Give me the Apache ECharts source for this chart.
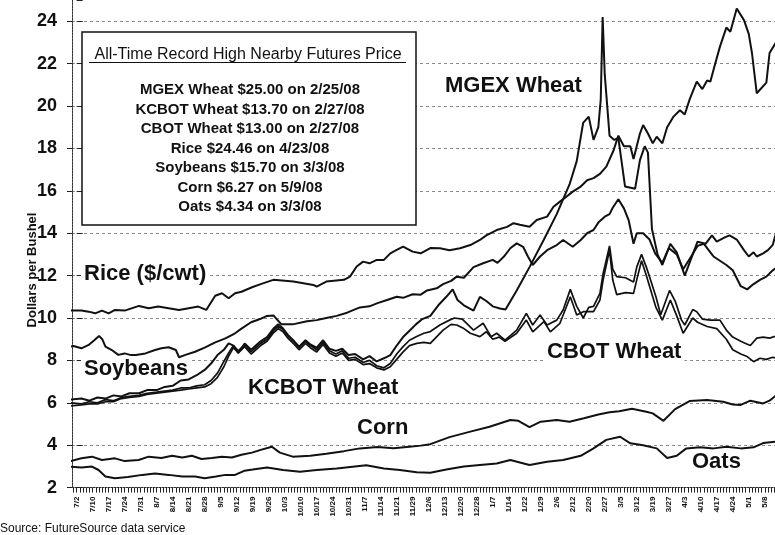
<!DOCTYPE html>
<html>
<head>
<meta charset="utf-8">
<script src="https://cdn.jsdelivr.net/npm/echarts@6/dist/echarts.min.js"></script>
<style>
  html, body { margin: 0; padding: 0; background: #fff; }
  #chart { width: 775px; height: 535px; }
</style>
</head>
<body>
<div id="chart"></div>
<script>
// x = position in weekly label steps, counted from the 7/2 label
const xLabels = ['7/2','7/10','7/17','7/24','7/31','8/7','8/14','8/21','8/28','9/5','9/12','9/19','9/26',
  '10/3','10/10','10/17','10/24','10/31','11/7','11/14','11/21','11/29','12/6','12/13','12/20','12/28',
  '1/7','1/14','1/22','1/29','2/6','2/12','2/20','2/27','3/5','3/12','3/19','3/27','4/3','4/10','4/17','4/24','5/1','5/8'];

const riceData = [[-0.4,10.35],[0.3,10.35],[0.75,10.3],[1.16,10.22],[1.58,10.35],[2.0,10.22],[2.4,10.38],[3.0,10.35],
  [3.9,10.57],[4.5,10.46],[5.1,10.54],[5.75,10.46],[6.4,10.38],[7.0,10.46],[7.6,10.54],[8.1,10.38],[8.66,11.05],
  [9.08,11.17],[9.5,10.93],[9.9,11.17],[10.3,11.24],[10.96,11.45],[11.5,11.6],[12.29,11.8],[13.54,11.72],[14.79,11.56],
  [15.0,11.48],[15.6,11.72],[16.7,11.8],[17.08,11.95],[17.5,12.43],[17.9,12.66],[18.3,12.58],[18.75,12.74],[19.2,12.74],
  [19.6,13.05],[20.0,13.21],[20.4,13.37],[21.0,13.13],[21.5,13.05],[22.1,13.3],[22.7,13.29],[23.3,13.2],[23.96,13.29],
  [24.6,13.44],[25.2,13.68],[25.6,13.9],[26.25,14.15],[26.9,14.3],[27.3,14.47],[27.7,14.4],[28.3,14.3],[28.75,14.62],
  [29.4,14.78],[29.8,15.25],[30.2,15.49],[30.6,15.72],[31.0,15.96],[31.5,16.2],[31.9,16.5],[32.3,16.6],[32.7,16.8],
  [33.1,17.14],[33.55,17.9],[33.85,18.6],[34.2,18.1],[34.6,18.1],[34.8,17.5],[35.2,18.7],[35.4,19.1],[35.7,18.7],
  [36.0,18.24],[36.25,18.55],[36.6,18.24],[36.9,19.0],[37.3,19.5],[37.7,19.8],[38.0,19.6],[38.3,20.3],[38.75,21.15],
  [39.1,20.8],[39.4,21.2],[39.6,21.15],[39.85,21.85],[40.2,22.8],[40.6,23.7],[40.85,23.5],[41.25,24.6],[41.7,24.05],
  [42.0,23.4],[42.2,22.5],[42.5,20.6],[43.1,21.1],[43.3,22.5],[43.7,23.0]];

const soybeanData = [[-0.4,8.65],[-0.2,8.68],[0.3,8.57],[0.75,8.73],[1.1,8.95],[1.4,9.15],[1.6,9.0],[1.8,8.65],
  [2.2,8.49],[2.6,8.26],[3.0,8.33],[3.4,8.25],[3.7,8.26],[4.3,8.33],[4.9,8.49],[5.3,8.57],[5.75,8.62],[6.2,8.49],
  [6.4,8.15],[6.8,8.26],[7.4,8.41],[8.0,8.6],[8.66,8.85],[9.3,9.04],[9.9,9.28],[10.3,9.5],[10.9,9.8],[11.46,9.95],
  [11.9,10.1],[12.3,10.12],[12.5,9.95],[12.8,9.7],[13.5,9.7],[14.4,9.85],[15.0,9.9],[15.6,10.0],[16.25,10.1],
  [16.9,10.25],[17.7,10.5],[18.3,10.55],[18.8,10.7],[19.4,10.85],[20.0,11.0],[20.4,10.95],[21.0,11.12],[21.5,11.1],
  [21.9,11.3],[22.5,11.4],[22.9,11.6],[23.4,11.75],[23.75,11.95],[24.2,11.9],[24.8,12.4],[25.4,12.58],[26.0,12.74],
  [26.3,12.6],[26.7,12.9],[27.1,13.29],[27.5,13.52],[27.9,13.36],[28.2,12.9],[28.5,12.5],[28.96,12.9],[29.4,13.2],
  [30.0,13.44],[30.4,13.68],[31.0,13.36],[31.5,13.68],[31.9,14.0],[32.3,14.15],[32.6,14.5],[33.0,14.78],[33.3,14.9],
  [33.5,15.2],[33.85,15.6],[34.2,15.17],[34.5,14.6],[34.8,13.5],[35.0,14.0],[35.4,14.0],[35.8,13.7],[36.15,13.05],
  [36.6,12.6],[37.0,13.3],[37.5,13.0],[37.9,12.3],[38.4,12.9],[38.8,13.4],[39.2,13.5],[39.6,13.1],[39.8,12.9],
  [40.2,12.7],[40.6,12.5],[41.0,12.25],[41.5,11.5],[41.9,11.35],[42.3,11.6],[42.7,11.8],[43.1,11.95],[43.5,12.25],[43.7,12.35]];

const mgexData = [[-0.4,6.15],[0.3,6.2],[0.8,6.1],[1.3,6.25],[1.8,6.2],[2.3,6.35],[2.8,6.3],[3.3,6.45],[3.9,6.45],
  [4.4,6.6],[5.0,6.6],[5.5,6.75],[6.0,6.8],[6.5,7.05],[7.0,7.1],[7.5,7.3],[8.0,7.55],[8.4,7.85],[8.8,8.25],[9.2,8.5],
  [9.5,8.8],[9.8,8.7],[10.1,8.35],[10.5,8.8],[10.9,8.5],[11.2,8.7],[11.5,8.9],[11.9,9.1],[12.3,9.5],[12.6,9.7],
  [12.9,9.5],[13.2,9.2],[13.6,8.9],[13.9,8.65],[14.3,8.95],[14.6,8.75],[15.0,8.6],[15.4,8.95],[15.8,8.55],[16.2,8.45],
  [16.6,8.55],[17.0,8.25],[17.4,8.3],[17.9,8.05],[18.3,8.2],[18.75,7.95],[19.2,8.1],[19.6,8.25],[20.0,8.7],[20.4,9.1],
  [20.8,9.4],[21.2,9.7],[21.6,9.95],[22.1,10.1],[22.6,10.6],[23.1,11.0],[23.5,11.35],[23.8,10.85],[24.2,10.6],
  [24.8,10.35],[25.2,11.0],[25.6,10.8],[26.0,10.55],[26.45,10.45],[26.8,10.4],[27.5,11.3],[28.3,12.4],[29.2,13.7],
  [30.0,14.9],[30.8,16.3],[31.25,17.4],[31.65,19.2],[32.0,19.5],[32.3,18.4],[32.6,19.0],[32.75,20.3],[32.87,24.2],
  [33.0,21.5],[33.3,18.6],[33.6,18.4],[33.85,18.5],[34.27,16.2],[34.9,16.1],[35.2,17.45],[35.5,18.1],[35.7,17.8],
  [35.95,14.2],[36.3,13.0],[36.6,12.5],[37.1,13.5],[37.5,13.1],[38.0,12.0],[38.5,13.0],[38.8,13.6],[39.3,13.5],
  [39.7,13.9],[40.0,13.6],[40.5,13.8],[40.8,13.9],[41.25,13.7],[41.7,13.2],[42.0,12.9],[42.3,13.1],[42.5,12.9],
  [42.9,13.05],[43.2,13.2],[43.5,13.45],[43.7,14.0]];

const kcbotData = [[-0.4,6.0],[0.3,5.95],[0.8,6.05],[1.3,6.0],[1.8,6.15],[2.3,6.1],[2.8,6.25],[3.3,6.3],[3.9,6.35],
  [4.4,6.45],[5.0,6.5],[5.5,6.55],[6.0,6.6],[6.5,6.7],[7.0,6.7],[7.5,6.8],[8.0,6.85],[8.4,7.05],[8.8,7.4],[9.2,7.95],
  [9.5,8.35],[9.8,8.7],[10.1,8.45],[10.5,8.75],[10.9,8.4],[11.2,8.6],[11.5,8.8],[11.9,9.0],[12.3,9.4],[12.6,9.6],
  [12.9,9.45],[13.2,9.15],[13.6,8.85],[13.9,8.6],[14.3,8.9],[14.6,8.7],[15.0,8.5],[15.4,8.85],[15.8,8.45],[16.2,8.3],
  [16.6,8.45],[17.0,8.1],[17.4,8.15],[17.9,7.9],[18.3,8.0],[18.75,7.75],[19.2,7.65],[19.6,7.85],[20.0,8.3],[20.4,8.65],
  [20.8,8.95],[21.25,9.13],[21.7,9.28],[22.1,9.36],[22.7,9.67],[23.3,9.9],[23.6,10.0],[24.1,9.95],[24.8,9.43],
  [25.4,9.75],[25.9,9.12],[26.25,9.28],[26.77,8.96],[27.5,9.43],[28.1,10.22],[28.5,9.67],[28.96,10.14],[29.4,9.67],
  [30.0,9.9],[30.4,10.38],[30.85,11.35],[31.25,10.55],[31.66,10.0],[32.0,10.5],[32.3,10.55],[32.7,11.16],[32.9,12.1],
  [33.3,13.4],[33.5,12.3],[33.75,11.95],[34.3,11.9],[34.8,11.7],[35.0,12.4],[35.3,13.0],[35.6,12.4],[35.8,11.95],
  [36.2,11.0],[36.5,10.15],[37.05,11.3],[37.4,10.8],[37.8,9.9],[38.0,9.67],[38.5,10.4],[38.75,10.3],[39.1,9.95],
  [39.6,9.9],[40.2,9.9],[40.6,9.43],[41.0,9.1],[41.5,8.9],[41.8,8.8],[42.1,8.7],[42.5,9.05],[42.9,9.1],[43.3,9.05],[43.7,9.15]];

const cbotData = [[-0.4,5.85],[0.3,5.9],[0.8,5.95],[1.3,5.95],[1.8,6.05],[2.3,6.05],[2.8,6.2],[3.3,6.25],[3.9,6.3],
  [4.4,6.4],[5.0,6.45],[5.5,6.5],[6.0,6.55],[6.5,6.6],[7.0,6.65],[7.5,6.7],[8.0,6.75],[8.4,6.9],[8.8,7.2],[9.2,7.7],
  [9.5,8.2],[9.8,8.6],[10.1,8.35],[10.5,8.65],[10.9,8.3],[11.2,8.5],[11.5,8.7],[11.9,8.9],[12.3,9.3],[12.6,9.5],
  [12.9,9.35],[13.2,9.05],[13.6,8.75],[13.9,8.5],[14.3,8.8],[14.6,8.6],[15.0,8.4],[15.4,8.75],[15.8,8.35],[16.2,8.2],
  [16.6,8.35],[17.0,8.0],[17.4,8.05],[17.9,7.8],[18.3,7.85],[18.75,7.65],[19.2,7.55],[19.6,7.7],[20.0,8.05],[20.4,8.4],
  [20.8,8.7],[21.25,8.8],[21.7,8.85],[22.1,8.8],[22.9,9.43],[23.4,9.7],[23.75,9.67],[24.2,9.5],[24.6,9.28],[25.2,9.12],
  [25.6,9.35],[26.0,9.0],[26.4,9.1],[26.77,8.9],[27.5,9.28],[28.1,9.9],[28.5,9.35],[29.2,9.83],[29.6,9.35],[30.2,9.75],
  [30.85,11.0],[31.25,10.14],[31.66,10.3],[32.3,10.3],[32.7,10.85],[32.9,11.8],[33.3,13.2],[33.5,11.8],[33.75,11.1],
  [34.3,11.2],[34.8,11.16],[35.0,11.8],[35.3,12.7],[35.6,12.0],[35.8,11.5],[36.2,10.5],[36.6,9.9],[37.1,10.85],
  [37.5,10.1],[37.9,9.28],[38.5,10.0],[38.8,9.8],[39.4,9.6],[40.0,9.5],[40.6,9.0],[41.0,8.5],[41.5,8.3],[41.9,8.18],
  [42.3,7.94],[42.7,8.1],[43.1,8.05],[43.5,8.15],[43.7,8.1]];

const cornData = [[-0.4,3.25],[0.3,3.38],[0.96,3.46],[1.58,3.3],[2.4,3.38],[3.0,3.25],[3.87,3.3],[4.5,3.46],[5.3,3.4],
  [5.96,3.5],[6.6,3.42],[7.2,3.5],[7.8,3.35],[8.45,3.4],[9.08,3.46],[9.7,3.42],[10.3,3.55],[10.96,3.65],[11.5,3.78],
  [12.2,3.93],[12.7,3.65],[13.5,3.46],[14.6,3.5],[15.6,3.6],[16.7,3.72],[17.7,3.85],[18.8,3.92],[19.8,3.86],[20.8,3.93],
  [21.5,3.98],[22.1,4.05],[23.3,4.38],[24.6,4.64],[25.8,4.87],[27.1,5.19],[27.6,5.15],[28.3,4.85],[29.0,5.11],[30.0,5.19],
  [30.8,5.11],[31.7,5.27],[32.6,5.45],[33.3,5.55],[33.9,5.6],[34.7,5.72],[35.6,5.58],[36.0,5.5],[36.67,5.15],[37.4,5.7],
  [38.3,6.08],[39.4,6.13],[40.4,6.05],[41.0,5.92],[41.5,5.9],[42.1,6.1],[42.9,5.97],[43.3,6.1],[43.7,6.35]];

const oatsData = [[-0.4,2.99],[0.3,2.95],[0.96,2.99],[1.37,2.83],[1.8,2.52],[2.4,2.44],[3.2,2.5],[4.1,2.6],[4.9,2.66],
  [5.75,2.6],[6.6,2.52],[7.4,2.52],[8.0,2.44],[8.7,2.52],[9.3,2.6],[9.9,2.6],[10.5,2.8],[11.0,2.85],[11.9,2.95],
  [12.9,2.83],[13.96,2.75],[15.0,2.83],[16.25,2.9],[17.1,2.97],[18.1,3.05],[19.2,2.9],[20.2,2.83],[21.25,2.72],
  [22.1,2.7],[23.1,2.85],[24.2,3.0],[25.2,3.07],[26.25,3.14],[27.1,3.3],[28.3,3.07],[29.4,3.22],[30.4,3.3],[31.5,3.5],
  [32.3,3.85],[33.1,4.25],[33.96,4.4],[34.6,4.09],[35.4,4.0],[36.25,3.85],[36.9,3.4],[37.5,3.5],[38.1,3.85],
  [38.96,3.9],[39.8,3.85],[40.6,3.93],[41.5,3.85],[42.3,3.9],[42.9,4.1],[43.7,4.17]];

const recordTitle = 'All-Time Record High Nearby Futures Price';
const recordLines = ['MGEX Wheat $25.00 on 2/25/08', 'KCBOT Wheat $13.70 on 2/27/08', 'CBOT Wheat $13.00 on 2/27/08',
  'Rice $24.46 on 4/23/08', 'Soybeans $15.70 on 3/3/08', 'Corn $6.27 on 5/9/08', 'Oats $4.34 on 3/3/08'];

const FONT = '"Liberation Sans", Arial, Helvetica, sans-serif';

// one small tick per trading day along the bottom axis
const dayTicks = [];
for (let d = -1; d <= 218; d++) dayTicks.push(+(d * 0.2).toFixed(1));

function lineSeries(name, data, width) {
  return {
    name: name, type: 'line', data: data, showSymbol: false, symbol: 'none',
    lineStyle: { color: '#111', width: width }, z: 3, silent: true
  };
}

function label(text, x, y, size) {
  return {
    type: 'text', x: x, y: y, z: 1,
    style: {
      text: text, fill: '#111', font: 'bold ' + size + 'px ' + FONT,
      textAlign: 'left', textVerticalAlign: 'middle',
      backgroundColor: '#fff', padding: [0, 3]
    }
  };
}

const graphics = [
  { type: 'rect', z: 5, shape: { x: 82, y: 32, width: 334, height: 193 },
    style: { fill: '#fff', stroke: '#111', lineWidth: 1.5 } },
  { type: 'text', z: 6, x: 248, y: 55,
    style: { text: recordTitle, fill: '#111', font: '16px ' + FONT, textAlign: 'center', textVerticalAlign: 'middle' } },
  { type: 'line', z: 6, shape: { x1: 89, y1: 62.5, x2: 406, y2: 62.5 }, style: { stroke: '#111', lineWidth: 1.2 } },
  { type: 'text', x: 32, y: 270, rotation: Math.PI / 2,
    style: { text: 'Dollars per Bushel', fill: '#111', font: 'bold 13px ' + FONT, textAlign: 'center', textVerticalAlign: 'middle' } },
  { type: 'text', x: 0, y: 529,
    style: { text: 'Source: FutureSource data service', fill: '#111', font: '12px ' + FONT, textAlign: 'left', textVerticalAlign: 'middle' } },
  label('MGEX Wheat', 442, 86, 22),
  label('Rice ($/cwt)', 81, 274, 22),
  label('Soybeans', 81, 369, 22),
  label('KCBOT Wheat', 245, 388, 22),
  label('CBOT Wheat', 544, 352, 22),
  label('Corn', 354, 428, 22),
  label('Oats', 689, 462, 22)
];
recordLines.forEach((t, i) => {
  graphics.push({ type: 'text', z: 6, x: 250, y: 90 + i * 19.5,
    style: { text: t, fill: '#111', font: 'bold 15px ' + FONT, textAlign: 'center', textVerticalAlign: 'middle' } });
});

const chart = echarts.init(document.getElementById('chart'), null, { renderer: 'canvas' });
chart.setOption({
  animation: false,
  backgroundColor: '#fff',
  grid: { left: 72, top: 0, right: 0, bottom: 47.4 },
  xAxis: {
    type: 'value', min: -0.29, max: 43.64,
    axisLine: { show: true, onZero: false, lineStyle: { color: '#333', width: 1, type: [2, 1] } },
    axisTick: { show: true, customValues: dayTicks, length: 5, lineStyle: { color: '#222', width: 1 } },
    axisLabel: {
      customValues: xLabels.map((_, i) => i),
      formatter: v => xLabels[Math.round(v)],
      rotate: 90, margin: 9, color: '#111',
      fontFamily: FONT, fontSize: 8, fontWeight: 'bold'
    },
    splitLine: { show: false }
  },
  yAxis: [{
    type: 'value', min: 2, max: 25, interval: 2,
    axisLine: { show: true, onZero: false, lineStyle: { color: '#333', width: 1, type: [2, 1] } },
    axisTick: { show: true, length: 5, lineStyle: { color: '#222' } },
    axisLabel: { margin: 15, color: '#111', fontFamily: FONT, fontSize: 18, fontWeight: 'bold', showMaxLabel: false },
    splitLine: { show: true, showMinLine: false, showMaxLine: false,
      lineStyle: { color: '#8a8a8a', width: 1, type: [3, 3] } }
  }, {
    type: 'value', min: 2, max: 25, interval: 2, position: 'left', offset: 0,
    axisLine: { show: false },
    axisTick: { show: true, inside: true, length: 6, lineStyle: { color: '#222' } },
    axisLabel: { show: false },
    splitLine: { show: false }
  }],
  series: [
    lineSeries('Rice', riceData, 2),
    lineSeries('Soybeans', soybeanData, 2),
    lineSeries('MGEX Wheat', mgexData, 2),
    lineSeries('KCBOT Wheat', kcbotData, 1.7),
    lineSeries('CBOT Wheat', cbotData, 1.7),
    lineSeries('Corn', cornData, 2),
    lineSeries('Oats', oatsData, 2)
  ],
  graphic: graphics
});
</script>
</body>
</html>
